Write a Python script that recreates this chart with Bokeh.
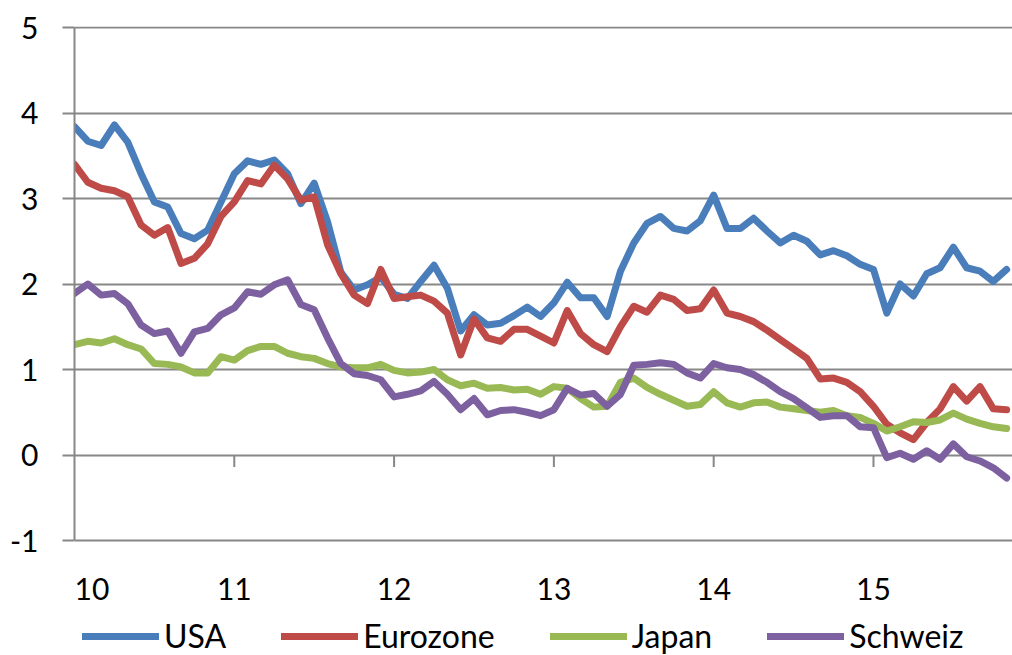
from bokeh.plotting import figure
from bokeh.models import Range1d, FixedTicker, Legend, LegendItem, ColumnDataSource
from bokeh.core.properties import value
from bokeh.embed import file_html
from bokeh.resources import INLINE

# monthly values, Jan 2010 .. Nov 2015 (x axis = year, 10..15)
months = [10 + i / 12 for i in range(71)]

usa = [3.84, 3.67, 3.62, 3.86, 3.66, 3.29, 2.96, 2.90, 2.59, 2.53, 2.63, 2.96,
       3.29, 3.44, 3.40, 3.45, 3.29, 2.94, 3.18, 2.73, 2.14, 1.93, 1.99, 2.08,
       1.88, 1.83, 2.03, 2.22, 1.95, 1.45, 1.64, 1.52, 1.54, 1.63, 1.73, 1.62,
       1.78, 2.02, 1.84, 1.84, 1.62, 2.15, 2.48, 2.71, 2.79, 2.65, 2.62, 2.74,
       3.04, 2.65, 2.65, 2.77, 2.62, 2.48, 2.57, 2.50, 2.34, 2.39, 2.33, 2.23,
       2.17, 1.66, 2.00, 1.86, 2.12, 2.19, 2.43, 2.19, 2.15, 2.03, 2.17]
eurozone = [3.40, 3.19, 3.12, 3.09, 3.02, 2.69, 2.57, 2.66, 2.24, 2.30, 2.47, 2.79,
            2.96, 3.21, 3.17, 3.39, 3.23, 2.98, 3.02, 2.46, 2.12, 1.87, 1.77, 2.17,
            1.83, 1.85, 1.87, 1.80, 1.66, 1.17, 1.59, 1.37, 1.33, 1.47, 1.47, 1.39,
            1.31, 1.69, 1.42, 1.29, 1.21, 1.50, 1.74, 1.67, 1.87, 1.82, 1.69, 1.71,
            1.93, 1.66, 1.62, 1.56, 1.46, 1.35, 1.24, 1.13, 0.89, 0.90, 0.85, 0.74,
            0.57, 0.36, 0.26, 0.18, 0.38, 0.54, 0.80, 0.63, 0.80, 0.54, 0.53]
japan = [1.29, 1.33, 1.31, 1.36, 1.29, 1.24, 1.07, 1.06, 1.03, 0.96, 0.96, 1.15,
         1.11, 1.22, 1.27, 1.27, 1.19, 1.15, 1.13, 1.07, 1.03, 1.02, 1.02, 1.06,
         0.99, 0.96, 0.97, 1.00, 0.88, 0.81, 0.84, 0.78, 0.79, 0.76, 0.77, 0.71,
         0.80, 0.78, 0.66, 0.56, 0.57, 0.85, 0.90, 0.79, 0.71, 0.64, 0.57, 0.59,
         0.74, 0.61, 0.56, 0.61, 0.62, 0.56, 0.54, 0.52, 0.50, 0.52, 0.46, 0.44,
         0.37, 0.28, 0.33, 0.39, 0.38, 0.41, 0.49, 0.42, 0.37, 0.33, 0.31]
schweiz = [1.89, 2.00, 1.87, 1.89, 1.77, 1.52, 1.42, 1.45, 1.19, 1.44, 1.48, 1.64,
           1.72, 1.91, 1.88, 1.99, 2.05, 1.76, 1.70, 1.37, 1.07, 0.95, 0.93, 0.88,
           0.68, 0.71, 0.75, 0.86, 0.71, 0.53, 0.66, 0.47, 0.52, 0.53, 0.50, 0.46,
           0.53, 0.78, 0.70, 0.72, 0.57, 0.71, 1.05, 1.06, 1.08, 1.06, 0.96, 0.90,
           1.07, 1.02, 1.00, 0.94, 0.85, 0.74, 0.66, 0.55, 0.44, 0.46, 0.46, 0.33,
           0.32, -0.03, 0.02, -0.05, 0.05, -0.05, 0.13, -0.02, -0.07, -0.15, -0.27]

names = ["USA", "Eurozone", "Japan", "Schweiz"]
colors = ["#4A7EBB", "#BE4B48", "#98B954", "#7D60A0"]
year_ticks = [10, 11, 12, 13, 14, 15]
year_labels = ["10", "11", "12", "13", "14", "15"]
y_ticks = [-1, 0, 1, 2, 3, 4, 5]

GRAY = "#878787"
FONT = "Lato"

# the frame runs down to the bottom of the canvas; the value area is -1..5,
# year labels and legend sit underneath it inside the frame
PX = 85.5            # pixels per unit on the value axis
H, TOP = 655, 26
y_top = 5 + 1 / PX
y_bot = y_top - (H - TOP) / PX

p = figure(width=1012, height=H, x_axis_location=None,
           x_range=Range1d(10, 15.87), y_range=Range1d(y_bot, y_top),
           output_backend="svg", toolbar_location=None,
           min_border_left=74, min_border_top=TOP, min_border_right=0,
           min_border_bottom=0)
p.outline_line_color = None

p.xgrid.grid_line_color = None
p.ygrid.ticker = FixedTicker(ticks=y_ticks)
p.ygrid.grid_line_color = GRAY
p.ygrid.grid_line_width = 2

ax = p.yaxis[0]
ax.ticker = FixedTicker(ticks=y_ticks)
ax.bounds = (-1, 5)
ax.major_label_overrides = {t: str(t) for t in y_ticks}
ax.axis_line_color = GRAY
ax.axis_line_width = 2
ax.major_tick_line_color = GRAY
ax.major_tick_line_width = 2
ax.major_tick_out = 12
ax.major_tick_in = 0
ax.minor_tick_line_color = None
ax.major_label_standoff = 24
ax.major_label_text_font = FONT
ax.major_label_text_font_size = "30px"
ax.major_label_text_color = "black"

# category axis crosses at 0, tick marks hang below it
tick_len = 12 / PX
p.segment(x0=year_ticks[1:], y0=[0] * 5, x1=year_ticks[1:], y1=[-tick_len] * 5,
          line_color=GRAY, line_width=2)

# year labels, placed low under the value area; the first one sits at the
# left edge so it stays inside the frame
lab_y = -1 - 48 / PX
labels = ColumnDataSource(dict(
    x=year_ticks, y=[lab_y] * len(year_ticks), text=year_labels,
    align=["left"] + ["center"] * (len(year_ticks) - 1)))
p.text(x="x", y="y", text="text", source=labels, text_align="align",
       text_font=value(FONT), text_font_size="30px", text_color="black",
       text_baseline="middle")

items = []
for name, vals, col in zip(names, [usa, eurozone, japan, schweiz], colors):
    r = p.line(months, vals, line_color=col, line_width=7,
               line_join="round", line_cap="round")
    items.append(LegendItem(label=name, renderers=[r]))

legend = Legend(items=items, orientation="horizontal", location=(8, 0),
                glyph_width=77, glyph_height=36, label_height=36,
                label_standoff=5, spacing=55,
                padding=0, margin=0, border_line_color=None,
                background_fill_alpha=0, label_text_font=FONT,
                label_text_font_size="32px", label_text_color="black")
p.add_layout(legend)

open("out.html", "w").write(file_html(p, INLINE))
